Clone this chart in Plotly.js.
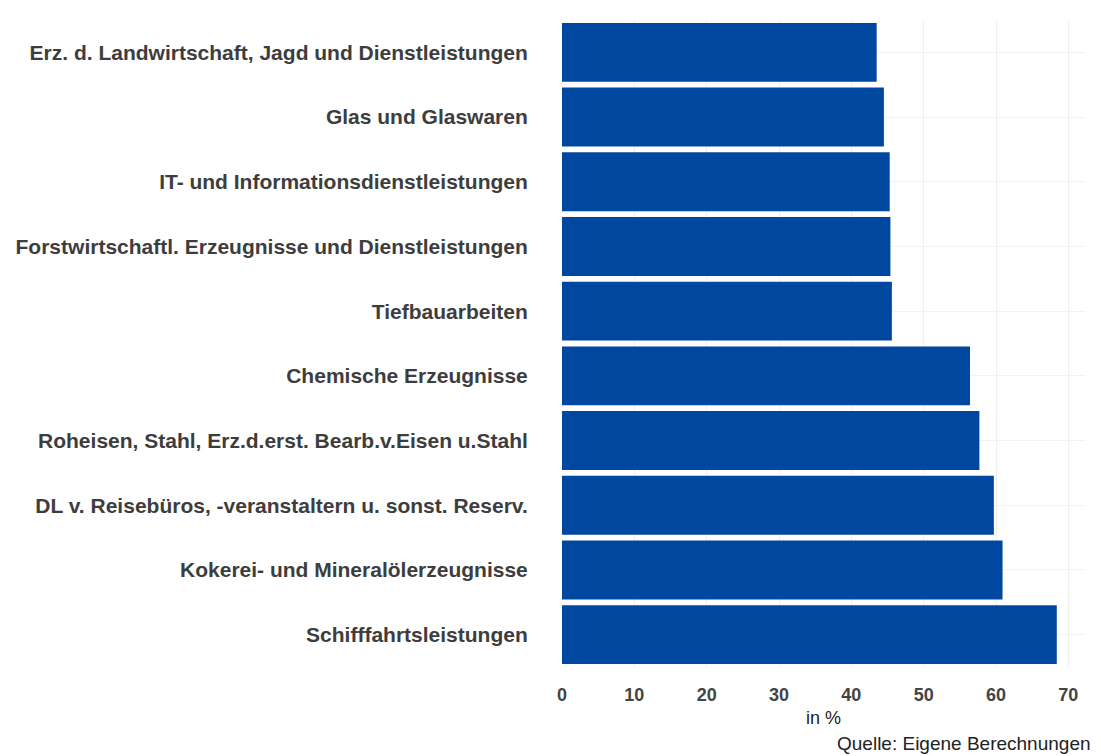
<!DOCTYPE html>
<html>
<head>
<meta charset="utf-8">
<script src="https://cdn.plot.ly/plotly-3.0.1.min.js"></script>
<style>html,body{margin:0;padding:0;background:#fff;}#chart{width:1101px;height:756px;}</style>
</head>
<body>
<div id="chart"></div>
<script>
const categories = [
  "Erz. d. Landwirtschaft, Jagd und Dienstleistungen",
  "Glas und Glaswaren",
  "IT- und Informationsdienstleistungen",
  "Forstwirtschaftl. Erzeugnisse und Dienstleistungen",
  "Tiefbauarbeiten",
  "Chemische Erzeugnisse",
  "Roheisen, Stahl, Erz.d.erst. Bearb.v.Eisen u.Stahl",
  "DL v. Reisebüros, -veranstaltern u. sonst. Reserv.",
  "Kokerei- und Mineralölerzeugnisse",
  "Schifffahrtsleistungen"
];
const values = [43.5, 44.5, 45.3, 45.4, 45.6, 56.4, 57.7, 59.7, 60.9, 68.4];
const xTicks = [0, 10, 20, 30, 40, 50, 60, 70];

const trace = {
  type: 'bar',
  orientation: 'h',
  y: categories,
  x: values,
  marker: {color: '#00479f'},
  hoverinfo: 'x+y'
};

const layout = {
  width: 1101,
  height: 756,
  margin: {l: 562, r: 16, t: 20, b: 89},
  paper_bgcolor: '#ffffff',
  plot_bgcolor: '#ffffff',
  bargap: 0.09,
  showlegend: false,
  font: {family: 'Liberation Sans, Arial, sans-serif', color: '#3d3d3d'},
  xaxis: {
    range: [0, 72.3],
    tickvals: xTicks,
    ticktext: xTicks.map(String),
    tickfont: {size: 18, color: '#444444', weight: 'bold'},
    showgrid: true,
    gridcolor: '#efefef',
    gridwidth: 1,
    zeroline: false,
    showline: false,
    ticks: 'outside',
    ticklen: 0,
    ticklabelstandoff: 11,
    title: {text: 'in %', font: {size: 18, color: '#222'}, standoff: 7}
  },
  yaxis: {
    autorange: 'reversed',
    tickfont: {size: 21, color: '#3d3d3d', weight: 'bold'},
    showgrid: true,
    gridcolor: '#f2f2f2',
    zeroline: false,
    showline: false,
    ticks: 'outside',
    ticklen: 0,
    ticklabelstandoff: 29
  },
  annotations: [{
    text: 'Quelle: Eigene Berechnungen',
    xref: 'paper', yref: 'paper',
    x: 1.015, y: -0.1175,
    xanchor: 'right', yanchor: 'middle',
    showarrow: false,
    font: {size: 19, color: '#222'}
  }]
};

Plotly.newPlot('chart', [trace], layout, {displayModeBar: false, staticPlot: true});
</script>
</body>
</html>
